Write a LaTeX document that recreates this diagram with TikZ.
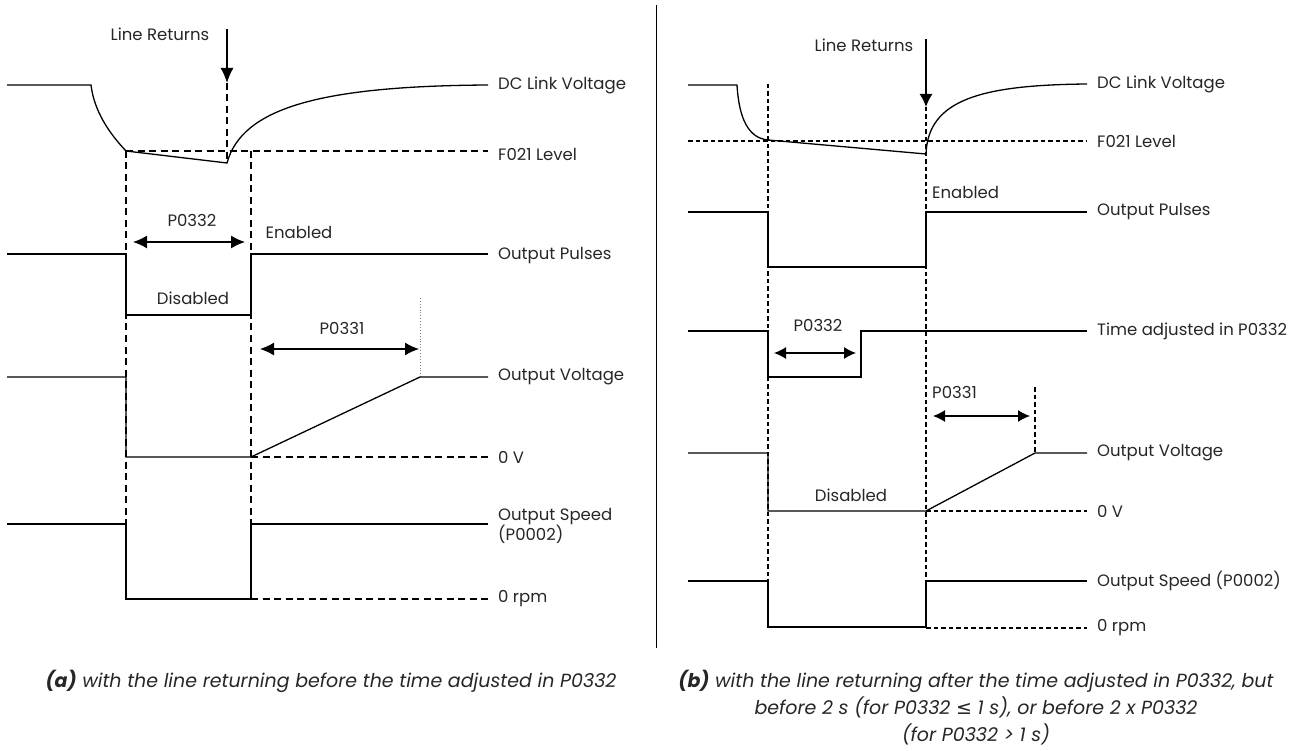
\documentclass[tikz,border=0pt]{standalone}
\usepackage{fontspec}
\setmainfont{Poppins}
\newfontfamily\symfont{DejaVu Sans}
\usetikzlibrary{arrows.meta}
\begin{document}
\begin{tikzpicture}[x=1pt,y=-1pt,
  sig/.style={line width=1.3pt, line join=miter},
  dsha/.style={line width=1.1pt, dash pattern=on 7pt off 4.5pt},
  dshb/.style={line width=1.1pt, dash pattern=on 4.5pt off 3pt},
  lbl/.style={font=\fontsize{16.5}{20}\selectfont, text=black!85, inner sep=0pt, anchor=west},
  txt/.style={font=\fontsize{16.5}{20}\selectfont, text=black!85, inner sep=0pt},
  dima/.style={line width=1.3pt, {Latex[length=14pt,width=13pt]}-{Latex[length=14pt,width=13pt]}},
  dimb/.style={line width=1.3pt, {Latex[length=12pt,width=12pt]}-{Latex[length=12pt,width=12pt]}},
  downarr/.style={line width=1.3pt, -{Latex[length=#1,width=13pt]}},
  captxt/.style={font=\fontsize{19}{27}\selectfont\itshape, text=black!85, inner sep=0pt, align=center}]
\useasboundingbox (0,0) rectangle (1304,751);

% ---------------- panel (a) ----------------
\draw[dsha] (126,151) -- (126,599);
\draw[dsha] (251,151) -- (251,599);
\draw[dsha] (227,83) -- (227,163);
\draw[dsha] (126,151) -- (488,151);
\draw[dsha] (251,457) -- (488,457);
\draw[dsha] (251,599) -- (488,599);
\draw[gray, line width=0.9pt, dotted] (420,298) -- (420,377);

\draw[sig] (7,85) -- (91,85) .. controls (94,110) and (108,132) .. (126,151)
  -- (227,163) .. controls (242,108) and (320,86) .. (488,85);
\draw[downarr=15pt] (227,29) -- (227,83);
\draw[sig] (7,254) -- (126,254) -- (126,315) -- (251,315) -- (251,254) -- (488,254);
\draw[sig] (7,377) -- (126,377) -- (126,457) -- (251,457) -- (420,377) -- (488,377);
\draw[sig] (7,524) -- (126,524) -- (126,599) -- (251,599) -- (251,524) -- (488,524);

\draw[dima] (133,242) -- (245,242);
\draw[dima] (260,349) -- (419,349);

\node[txt] (aLR) at (160,34) {Line Returns};
\node[txt] (aP2) at (192,220) {P0332};
\node[txt] (aEn) at (299,232) {Enabled};
\node[txt] (aDi) at (193,298) {Disabled};
\node[txt] (aP1) at (342,328) {P0331};

\node[lbl] (aDC) at (498,85) {DC Link Voltage};
\node[lbl] (aF) at (498,154) {F021 Level};
\node[lbl] (aOP) at (498,256) {Output Pulses};
\node[lbl] (aOV) at (498,377) {Output Voltage};
\node[lbl] (a0V) at (498,457) {0 V};
\node[lbl, align=left] (aOS) at (498,526) {Output Speed\\(P0002)};
\node[lbl] (a0r) at (498,599) {0 rpm};

% divider
\draw[line width=0.8pt] (656,5) -- (656,648);

% ---------------- panel (b) ----------------
\draw[dshb] (768,84) -- (768,628);
\draw[dshb] (926,107) -- (926,628);
\draw[dshb] (688,141) -- (1087,141);
\draw[dshb] (926,511) -- (1087,511);
\draw[dshb] (926,628) -- (1087,628);
\draw[dshb] (1035,387) -- (1035,453);

\draw[sig] (688,85) -- (737,85) .. controls (739,118) and (748,138) .. (768,140)
  -- (926,154) .. controls (928,100) and (980,85) .. (1087,84);
\draw[downarr=13pt] (926,39) -- (926,107);
\draw[sig] (688,212) -- (768,212) -- (768,267) -- (926,267) -- (926,212) -- (1087,212);
\draw[sig] (688,331) -- (768,331) -- (768,377) -- (861,377) -- (861,331) -- (1087,331);
\draw[sig] (688,453) -- (768,453) -- (768,511) -- (926,511) -- (1035,453) -- (1087,453);
\draw[sig] (688,581) -- (768,581) -- (768,627) -- (926,627) -- (926,581) -- (1087,581);

\draw[dimb] (774,353) -- (856,353);
\draw[dimb] (933,416) -- (1030,416);

\node[txt] (bLR) at (864,45) {Line Returns};
\node[txt, anchor=west] (bEn) at (932,192) {Enabled};
\node[txt] (bP2) at (818,325) {P0332};
\node[txt, anchor=west] (bP1) at (932,392) {P0331};
\node[txt] (bDi) at (851,495) {Disabled};

\node[lbl] (bDC) at (1097,84) {DC Link Voltage};
\node[lbl] (bF) at (1097,141) {F021 Level};
\node[lbl] (bOP) at (1097,212) {Output Pulses};
\node[lbl] (bTA) at (1097,331) {Time adjusted in P0332};
\node[lbl] (bOV) at (1097,453) {Output Voltage};
\node[lbl] (b0V) at (1097,511) {0 V};
\node[lbl] (bOS) at (1097,581) {Output Speed (P0002)};
\node[lbl] (b0r) at (1097,628) {0 rpm};

% captions
\node[captxt, anchor=north] (capa) at (331,670) {\textbf{(a)} with the line returning before the time adjusted in P0332};
\node[captxt, anchor=north] (capb) at (976,670) {\textbf{(b)} with the line returning after the time adjusted in P0332, but\\
before 2 s (for P0332 {\symfont\itshape ≤} 1 s), or before 2 x P0332\\
(for P0332 > 1 s)};
\end{tikzpicture}
\end{document}
